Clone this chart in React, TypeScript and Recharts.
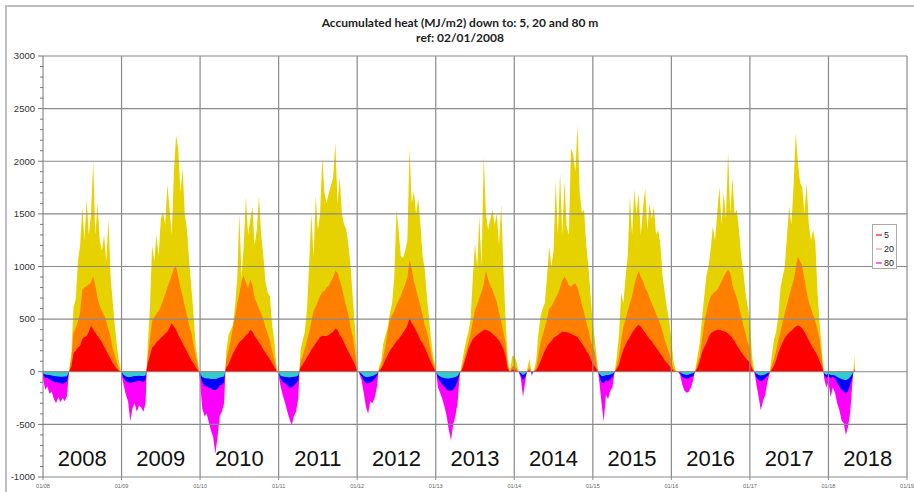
import React from 'react';
import { AreaChart, Area, XAxis, YAxis, ReferenceLine, ReferenceDot, Legend } from 'recharts';

// ---------- data (36 samples per year, from 01/2008) ----------
const startYear = 2008;
const samplesPerYear = 36;

const yearLabels = ['2008', '2009', '2010', '2011', '2012', '2013', '2014', '2015', '2016', '2017', '2018'];
const xTicks = [2008, 2009, 2010, 2011, 2012, 2013, 2014, 2015, 2016, 2017, 2018, 2019];
const yTicks = [-1000, -500, 0, 500, 1000, 1500, 2000, 2500, 3000];
const legendNames = ['5', '20', '80'];

// accumulated heat down to 80 m
const depth80 = [
  // 2008
  -60, -170, -140, -210, -190, -260, -300, -240, -290, -250, -280, -230, 20, 180, 620, 690, 1050, 1200, 1560, 1250, 1640, 1300, 1500, 2000, 1300, 1600, 1250, 1150, 1300, 1050, 1450, 900, 650, 420, 220, 80,
  // 2009
  -30, -130, -220, -280, -470, -350, -300, -380, -320, -340, -380, -300, 250, 600, 1200, 1050, 1300, 1100, 1450, 1520, 1400, 1780, 1550, 1300, 1900, 2245, 2120, 1700, 1930, 1500, 1350, 1050, 800, 550, 250, 100,
  // 2010
  -100, -350, -420, -400, -480, -560, -620, -780, -620, -420, -380, -300, 200, 350, 400, 440, 620, 880, 1500, 900, 1200, 1660, 1300, 1450, 1560, 1200, 1350, 1670, 1300, 1100, 850, 750, 720, 450, 300, 50,
  // 2011
  -40, -150, -230, -300, -380, -450, -510, -420, -380, -250, 200, 300, 380, 600, 1040, 1500, 1100, 1670, 1350, 1500, 2040, 1700, 1600, 1700, 1770, 1850, 2175, 1600, 1850, 1500, 1400, 1355, 1200, 1000, 700, 420,
  // 2012
  30, -20, -80, -200, -330, -400, -280, -300, -250, -150, 50, 100, 270, 350, 420, 555, 650, 900, 1540, 1350, 1100, 1080, 1150, 1250, 2127, 1600, 1715, 1500, 1650, 1400, 1100, 970, 700, 500, 280, 120,
  // 2013
  40, -150, -200, -260, -330, -420, -550, -650, -500, -420, -300, -30, 80, 200, 300, 380, 500, 900, 1220, 1000, 1475, 1000, 2050, 1510, 1350, 1450, 1540, 1400, 1500, 1200, 1590, 1000, 500, 120, 0, 150,
  // 2014
  150, 100, 0, -60, -240, -100, 30, 130, -40, 20, 100, 350, 520, 600, 650, 900, 1190, 1000, 1150, 1810, 1300, 1890, 1300, 1810, 1380, 1300, 2127, 2064, 1900, 2340, 1700, 1510, 1540, 1200, 1000, 720,
  // 2015
  450, 300, 80, -100, -300, -475, -220, -260, -180, -150, 0, 150, 350, 745, 650, 900, 1100, 1665, 1300, 1730, 1500, 1700, 1300, 1550, 1745, 1350, 1600, 1450, 1570, 1300, 1350, 1200, 900, 750, 600, 480,
  // 2016
  300, 100, 20, 0, -30, -120, -180, -200, -190, -150, -80, 30, 150, 270, 500, 700, 905, 1000, 1160, 1380, 1250, 1500, 1760, 1400, 1700, 1450, 2095, 1500, 1840, 1500, 1540, 1350, 1100, 950, 750, 620,
  // 2017
  500, 150, 0, -120, -240, -365, -280, -220, -100, -20, 150, 300, 380, 520, 800, 900, 1000, 1300, 1570, 1400, 1760, 2270, 1985, 1800, 1750, 1500, 1795, 1400, 1250, 1350, 1220, 750, 450, 200, -60, -150,
  // 2018
  -100, -240, -150, -200, -300, -365, -460, -490, -600, -520, -380, -100, 160,
];

// accumulated heat down to 20 m
const depth20 = [
  // 2008
  -30, -55, -60, -70, -85, -95, -100, -105, -110, -115, -105, -95, 10, 120, 370, 420, 480, 560, 780, 800, 815, 830, 850, 910, 820, 700, 625, 580, 540, 480, 400, 330, 220, 150, 80, 20,
  // 2009
  -10, -60, -90, -100, -110, -100, -95, -90, -85, -90, -95, -80, 150, 300, 480, 520, 550, 580, 620, 680, 740, 800, 860, 920, 980, 1000, 900, 800, 720, 620, 540, 440, 370, 260, 150, 60,
  // 2010
  -30, -100, -130, -140, -150, -160, -170, -175, -160, -130, -120, -100, 120, 200, 300, 420, 520, 650, 740, 860, 910, 850, 790, 880, 820, 700, 650, 600, 550, 500, 420, 360, 300, 200, 120, 20,
  // 2011
  -20, -70, -100, -110, -130, -150, -150, -130, -110, -80, 100, 150, 220, 300, 380, 480, 580, 620, 670, 720, 760, 770, 800, 820, 860, 900, 960, 940, 870, 800, 700, 620, 540, 420, 330, 200,
  // 2012
  10, -10, -40, -80, -110, -110, -100, -90, -70, -40, 20, 60, 150, 250, 380, 500, 540, 580, 640, 680, 720, 780, 830, 900, 1060, 980, 860, 780, 700, 620, 540, 440, 380, 280, 170, 80,
  // 2013
  15, -60, -90, -120, -140, -170, -180, -180, -170, -140, -90, -20, 40, 120, 200, 280, 360, 480, 590, 640, 700, 760, 830, 960, 880, 820, 780, 720, 660, 560, 480, 380, 280, 60, 0, 50,
  // 2014
  60, 30, 0, -30, -80, -50, 10, 40, -20, 10, 30, 150, 270, 350, 420, 500, 600, 620, 660, 700, 740, 800, 870, 905, 870, 820, 810, 830, 840, 800, 720, 640, 560, 470, 400, 300,
  // 2015
  230, 180, 40, -40, -100, -110, -80, -90, -70, -50, 0, 60, 150, 300, 420, 500, 580, 650, 720, 820, 900, 960, 900, 860, 800, 760, 700, 650, 600, 550, 500, 450, 380, 300, 240, 180,
  // 2016
  100, 30, 5, 0, -10, -50, -60, -70, -60, -50, -40, 10, 80, 150, 300, 450, 560, 650, 715, 740, 760, 780, 820, 860, 905, 940, 970, 940, 820, 760, 700, 620, 530, 440, 360, 280,
  // 2017
  220, 60, 0, -50, -80, -90, -80, -60, -40, -10, 60, 120, 200, 300, 380, 470, 560, 640, 720, 800, 860, 980, 1095, 1050, 1000, 880, 760, 660, 600, 540, 480, 400, 300, 120, -30, -60,
  // 2018
  -40, -60, -50, -60, -110, -140, -170, -190, -205, -180, -120, -50, 60,
];

// accumulated heat down to 5 m
const depth5 = [
  // 2008
  -15, -25, -28, -32, -35, -40, -42, -45, -48, -48, -45, -42, 5, 50, 180, 200, 230, 250, 310, 330, 340, 380, 440, 400, 370, 340, 310, 280, 240, 200, 160, 120, 80, 50, 25, 8,
  // 2009
  -5, -30, -45, -50, -50, -45, -40, -40, -38, -40, -40, -35, 80, 150, 230, 250, 280, 300, 320, 340, 360, 380, 420, 460, 430, 400, 350, 310, 270, 230, 190, 150, 110, 80, 40, 15,
  // 2010
  -15, -50, -60, -65, -65, -70, -70, -70, -65, -55, -50, -45, 40, 70, 120, 170, 210, 250, 280, 300, 320, 350, 360, 400, 380, 340, 310, 280, 250, 210, 180, 150, 120, 80, 50, 8,
  // 2011
  -10, -40, -45, -50, -50, -55, -50, -48, -45, -35, 40, 70, 100, 140, 170, 210, 240, 270, 300, 330, 340, 340, 340, 350, 365, 380, 410, 400, 350, 320, 280, 230, 190, 150, 110, 70,
  // 2012
  5, -5, -20, -40, -50, -50, -45, -40, -30, -20, 10, 30, 70, 120, 160, 200, 230, 260, 290, 310, 340, 370, 400, 440, 510, 460, 430, 390, 350, 300, 270, 230, 180, 130, 80, 40,
  // 2013
  5, -30, -45, -55, -60, -65, -65, -60, -55, -50, -40, -10, 20, 80, 150, 220, 270, 310, 330, 350, 365, 380, 400, 400, 390, 380, 360, 340, 320, 300, 260, 220, 150, 30, 0, 20,
  // 2014
  20, 10, 0, -15, -30, -20, 5, 15, -10, 5, 15, 50, 100, 150, 200, 240, 270, 290, 320, 335, 350, 365, 380, 380, 375, 370, 360, 350, 340, 330, 300, 270, 240, 200, 170, 120,
  // 2015
  80, 50, 15, -20, -40, -40, -30, -30, -25, -20, 0, 30, 70, 150, 210, 260, 300, 330, 370, 400, 430, 445, 430, 400, 370, 340, 310, 290, 260, 230, 200, 170, 140, 110, 80, 60,
  // 2016
  30, 10, 0, 0, -5, -20, -25, -30, -25, -20, -15, 5, 40, 100, 180, 230, 270, 320, 365, 380, 390, 400, 400, 390, 385, 380, 360, 345, 320, 290, 250, 220, 190, 160, 130, 110,
  // 2017
  90, 30, 0, -20, -30, -35, -30, -25, -15, -5, 20, 60, 110, 180, 230, 280, 320, 350, 370, 390, 410, 430, 440, 430, 410, 380, 340, 300, 260, 220, 190, 150, 100, 50, -15, -30,
  // 2018
  -20, -30, -30, -35, -50, -60, -70, -75, -80, -70, -50, -20, 20,
];

// ---------- layout / style ----------
const W = 914;
const H = 492;
const MARGIN = { top: 56, right: 7, bottom: 0, left: 0 };
const Y_AXIS_W = 43;
const X_AXIS_H = 15;
const PLOT_TOP = MARGIN.top;
const PLOT_BOTTOM = H - MARGIN.bottom - X_AXIS_H;
const Y_MIN = -1000;
const Y_MAX = 3000;
const ZERO_FRAC = Y_MAX / (Y_MAX - Y_MIN);

const series = [
  { key: 'd80', pos: '#e6d200', neg: '#ff00ff' },
  { key: 'd20', pos: '#ff8000', neg: '#0000ff' },
  { key: 'd5', pos: '#ff0000', neg: '#33cccc' },
];
const legendColors = ['#f07080', '#f8c0c0', '#f070f0'];
const GRID = '#8a8a8a';

const data = depth80.map((v, i) => ({
  t: startYear + i / samplesPerYear,
  d80: v,
  d20: depth20[i],
  d5: depth5[i],
}));

const yMinor: number[] = [];
for (let v = Y_MIN; v <= Y_MAX; v += 100) yMinor.push(v);

const YTick = (props: any) => {
  const { x, y, payload } = props;
  const v = payload.value;
  const major = v % 500 === 0;
  return (
    <g>
      <line x1={x - (major ? 5 : 3)} x2={x} y1={y} y2={y} stroke="#777" strokeWidth={1} />
      {major && (
        <text x={x - 8} y={y} dy={3.3} textAnchor="end" fontSize={9.5} fill="#333" fontFamily="Liberation Sans, Arial, sans-serif">
          {v}
        </text>
      )}
    </g>
  );
};

const LegendBox = () => (
  <div
    style={{
      width: 25,
      height: 45,
      border: '1px solid #aaa',
      background: '#fff',
      boxSizing: 'border-box',
      fontFamily: 'Liberation Sans, Arial, sans-serif',
      fontSize: 9,
      color: '#222',
      paddingTop: 3,
    }}
  >
    {legendNames.map((n, i) => (
      <div key={n} style={{ display: 'flex', alignItems: 'center', height: 14, lineHeight: '14px' }}>
        <span style={{ display: 'inline-block', width: 6, height: 1.5, background: legendColors[i], marginLeft: 3, marginRight: 2 }} />
        <span>{n}</span>
      </div>
    ))}
  </div>
);

export default function App() {
  return (
    <div style={{ position: 'absolute', left: 0, top: 0, width: W, height: H, background: '#fff', overflow: 'hidden' }}>
      <div
        style={{
          position: 'absolute',
          left: 5,
          top: 5,
          width: 920,
          height: 500,
          borderLeft: '2px solid #bdbdbd',
          borderTop: '2px solid #bdbdbd',
          boxSizing: 'border-box',
        }}
      />
      <div
        style={{
          position: 'absolute',
          left: 0,
          top: 15,
          width: 920,
          textAlign: 'center',
          fontFamily: 'Lato, Liberation Sans, sans-serif',
          fontWeight: 700,
          fontSize: 12,
          lineHeight: '15px',
          color: '#222',
        }}
      >
        <div>Accumulated heat (MJ/m2) down to: 5, 20 and 80 m</div>
        <div>ref: 02/01/2008</div>
      </div>
      <div style={{ position: 'absolute', left: 0, top: 0 }}>
        <AreaChart width={W} height={H} data={data} margin={MARGIN}>
          <defs>
            {series.map((s) => (
              <linearGradient key={s.key} id={'grad-' + s.key} gradientUnits="userSpaceOnUse" x1={0} y1={PLOT_TOP} x2={0} y2={PLOT_BOTTOM}>
                <stop offset={0} stopColor={s.pos} />
                <stop offset={ZERO_FRAC} stopColor={s.pos} />
                <stop offset={ZERO_FRAC} stopColor={s.neg} />
                <stop offset={1} stopColor={s.neg} />
              </linearGradient>
            ))}
          </defs>
          <XAxis
            dataKey="t"
            type="number"
            domain={[2008, 2019]}
            ticks={xTicks}
            interval={0}
            height={X_AXIS_H}
            tickFormatter={(v: number) => '01/' + String(v).slice(2)}
            tick={{ fontSize: 5.5, fill: '#666', fontFamily: 'Liberation Sans, Arial, sans-serif' }}
            tickSize={3}
            tickMargin={4}
            stroke="#8a8a8a"
            allowDataOverflow
          />
          <YAxis
            type="number"
            domain={[Y_MIN, Y_MAX]}
            ticks={yMinor}
            interval={0}
            width={Y_AXIS_W}
            tickSize={0}
            tickMargin={0}
            tickLine={false}
            tick={<YTick />}
            stroke="#777"
            allowDataOverflow
          />
          {series.map((s) => (
            <Area
              key={s.key}
              dataKey={s.key}
              type="linear"
              baseValue={0}
              stroke="none"
              fill={'url(#grad-' + s.key + ')'}
              fillOpacity={1}
              dot={false}
              activeDot={false}
              isAnimationActive={false}
            />
          ))}
          {yTicks
            .filter((v) => v !== Y_MIN)
            .map((v) => (
              <ReferenceLine key={'h' + v} y={v} stroke={GRID} strokeWidth={1.2} />
            ))}
          {xTicks
            .filter((v) => v !== 2008)
            .map((v) => (
              <ReferenceLine key={'v' + v} x={v} stroke={GRID} strokeWidth={1.2} />
            ))}
          {yearLabels.map((lab, i) => (
            <ReferenceDot
              key={lab}
              x={startYear + i + 0.5}
              y={-820}
              r={0}
              fill="none"
              stroke="none"
              label={{ value: lab, position: 'center', fontSize: 22, fill: '#111', fontFamily: 'Liberation Sans, Arial, sans-serif' }}
            />
          ))}
          <Legend
            layout="horizontal"
            verticalAlign="middle"
            align="center"
            content={() => <LegendBox />}
            wrapperStyle={{ left: 872, top: 224, width: 25, height: 45 }}
          />
        </AreaChart>
      </div>
    </div>
  );
}
